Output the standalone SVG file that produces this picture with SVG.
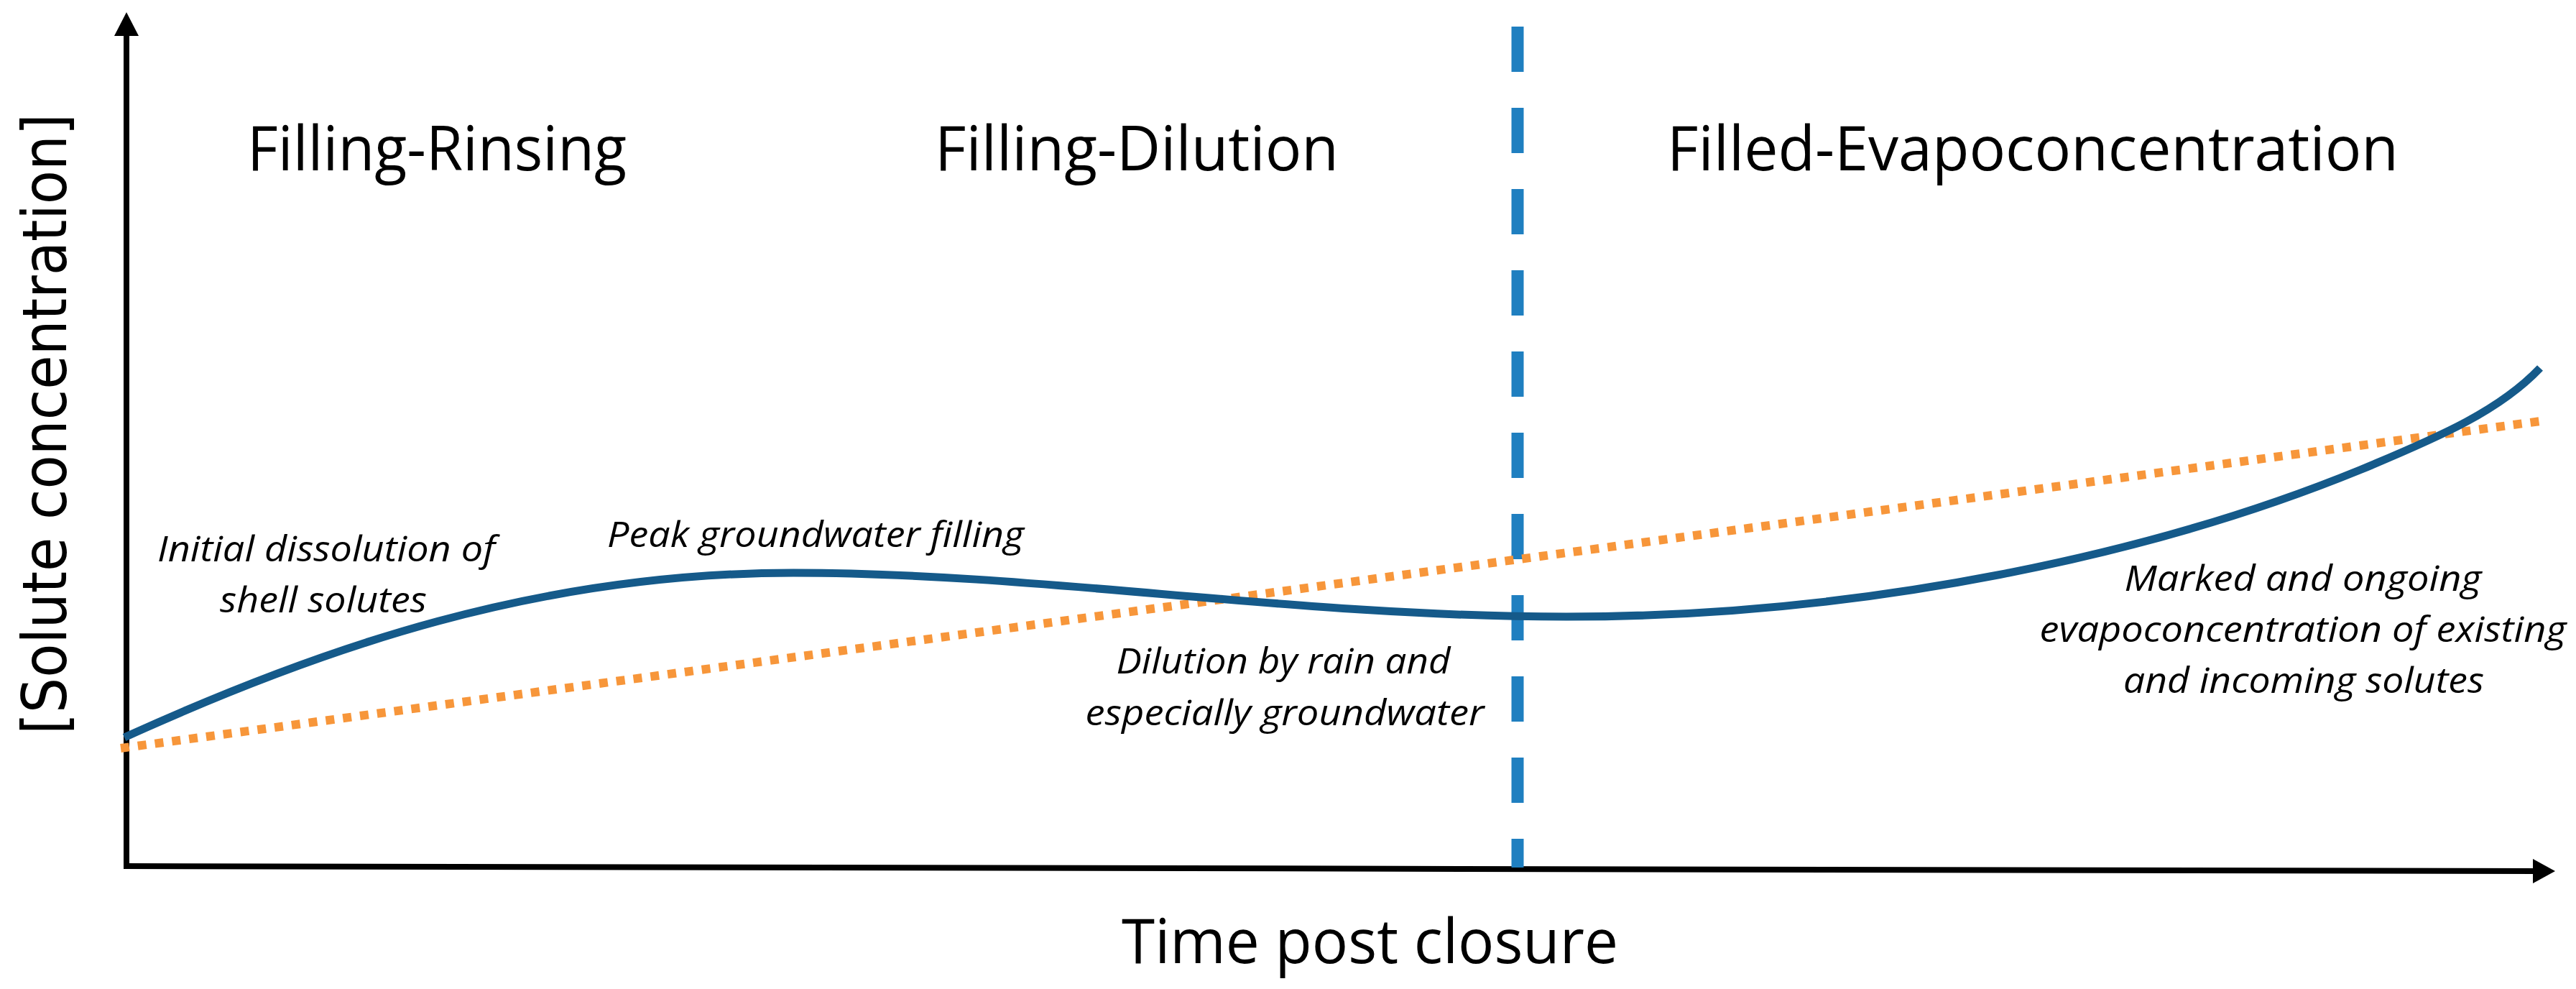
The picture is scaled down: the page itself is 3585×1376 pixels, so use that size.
<svg xmlns="http://www.w3.org/2000/svg" width="3585" height="1376" viewBox="0 0 3585 1376">
<style>
.t{font-family:"Open Sans","Liberation Sans",sans-serif;fill:#000}
.h{font-size:86px}
.i{font-size:50px;font-style:italic;text-anchor:middle}
.ax{stroke:#000;stroke-width:8;fill:none}
</style>
<rect width="3585" height="1376" fill="#fff"/>
<g id="connectors">
<line class="ax" x1="176" y1="40" x2="176" y2="1209"/>
<polygon points="176,17 159,50 193,50" fill="#000"/>
<line class="ax" x1="172" y1="1205" x2="3530" y2="1212"/>
<polygon points="3556,1212 3525,1195 3525,1229" fill="#000"/>
<line x1="2112" y1="37" x2="2112" y2="1207" stroke="#1f7fc0" stroke-width="17" stroke-dasharray="63 50"/>
<line x1="168" y1="1041" x2="3535" y2="586" stroke="#f7963a" stroke-width="12" stroke-dasharray="12 12"/>
<path d="M173,1026 C450,900 750,797 1104,797 C1450,797 1800,858 2180,858 C2600,858 3000,770 3284,654 C3400,606 3480,570 3535,512" fill="none" stroke="#155a8a" stroke-width="11"/>
</g>
<g id="labels">
<text class="t h" x="344" y="237" textLength="528" lengthAdjust="spacingAndGlyphs">Filling-Rinsing</text>
<text class="t h" x="1301" y="237" textLength="562" lengthAdjust="spacingAndGlyphs">Filling-Dilution</text>
<text class="t h" x="2320" y="237" textLength="1018" lengthAdjust="spacingAndGlyphs">Filled-Evapoconcentration</text>
<text class="t h" x="1561" y="1340" textLength="691" lengthAdjust="spacingAndGlyphs">Time post closure</text>
<text x="92" y="590" transform="rotate(-90 92 590)" text-anchor="middle" font-family="DejaVu Sans,sans-serif" font-size="86" textLength="864" lengthAdjust="spacingAndGlyphs">[Solute concentration]</text>
<text class="t i" x="454" y="781" textLength="470" lengthAdjust="spacingAndGlyphs">Initial dissolution of</text>
<text class="t i" x="450" y="852" textLength="288" lengthAdjust="spacingAndGlyphs">shell solutes</text>
<text class="t i" x="1135" y="761" textLength="580" lengthAdjust="spacingAndGlyphs">Peak groundwater filling</text>
<text class="t i" x="1786" y="937" textLength="465" lengthAdjust="spacingAndGlyphs">Dilution by rain and</text>
<text class="t i" x="1788" y="1009" textLength="555" lengthAdjust="spacingAndGlyphs">especially groundwater</text>
<text class="t i" x="3205" y="822" textLength="497" lengthAdjust="spacingAndGlyphs">Marked and ongoing</text>
<text class="t i" x="3205" y="893" textLength="733" lengthAdjust="spacingAndGlyphs">evapoconcentration of existing</text>
<text class="t i" x="3206" y="964" textLength="502" lengthAdjust="spacingAndGlyphs">and incoming solutes</text>
</g>
</svg>
